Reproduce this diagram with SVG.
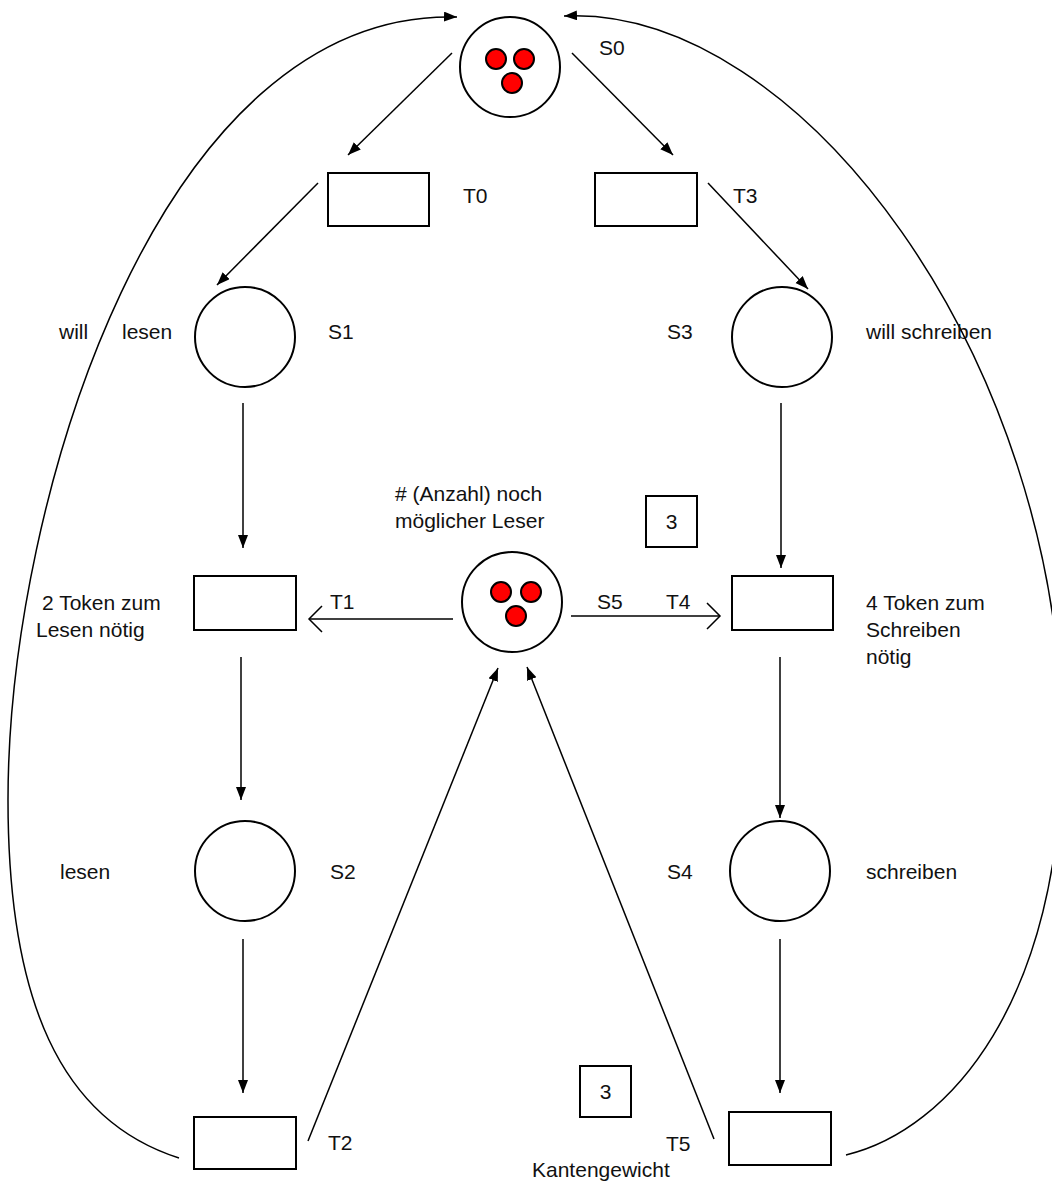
<svg xmlns="http://www.w3.org/2000/svg" width="1052" height="1187" viewBox="0 0 1052 1187">
<style>
.n{fill:#fff;stroke:#000;stroke-width:2}
.tok{fill:#f00;stroke:#000;stroke-width:2}
.e{fill:none;stroke:#000;stroke-width:1.5}
.t{font-family:"Liberation Sans",Arial,sans-serif;font-size:21px;fill:#111}
</style>
<defs>
<marker id="a" markerUnits="userSpaceOnUse" markerWidth="14" markerHeight="12" refX="13" refY="5" orient="auto">
<path d="M0,0 L13,5 L0,10 z" fill="#000"/>
</marker>
<marker id="o" markerUnits="userSpaceOnUse" markerWidth="18" markerHeight="30" refX="14" refY="14" orient="auto">
<path d="M1,1 L14,14 L1,27" fill="none" stroke="#000" stroke-width="1.5"/>
</marker>
</defs>
<g id="connectors">
<path class="e" d="M452,53 L348,155" marker-end="url(#a)"/>
<path class="e" d="M572,53 L673,155" marker-end="url(#a)"/>
<path class="e" d="M318,183 L217,285" marker-end="url(#a)"/>
<path class="e" d="M708,183 L808,289" marker-end="url(#a)"/>
<path class="e" d="M243,403 L243,548" marker-end="url(#a)"/>
<path class="e" d="M781,403 L781,568" marker-end="url(#a)"/>
<path class="e" d="M241,657 L241,800" marker-end="url(#a)"/>
<path class="e" d="M780,657 L780,818" marker-end="url(#a)"/>
<path class="e" d="M243,939 L243,1093" marker-end="url(#a)"/>
<path class="e" d="M780,939 L780,1093" marker-end="url(#a)"/>
<path class="e" d="M308,1141 L498,668" marker-end="url(#a)"/>
<path class="e" d="M714,1139 L527,667" marker-end="url(#a)"/>
<path class="e" d="M453,619 L309,619" marker-end="url(#o)"/>
<path class="e" d="M571,616 L720,616" marker-end="url(#o)"/>
<path class="e" d="M179,1158 C60,1120 8,1000 8,800 C8,500 160,8 457,17" marker-end="url(#a)"/>
<path class="e" d="M846,1155 C950,1130 1062,1000 1062,742 C1062,360 800,5 564,16" marker-end="url(#a)"/>
</g>
<g id="S0">
<circle class="n" cx="510" cy="67" r="50"/>
<circle class="tok" cx="496" cy="59" r="10"/>
<circle class="tok" cx="524" cy="59" r="10"/>
<circle class="tok" cx="512" cy="83" r="10"/>
<text class="t" x="599" y="55">S0</text>
</g>
<g id="T0">
<rect class="n" x="328" y="173" width="101" height="53"/>
<text class="t" x="463" y="203">T0</text>
</g>
<g id="T3">
<rect class="n" x="595" y="173" width="102" height="53"/>
<text class="t" x="733" y="203">T3</text>
</g>
<g id="S1">
<circle class="n" cx="245" cy="337" r="50"/>
<text class="t" x="328" y="339">S1</text>
<text class="t" x="59" y="339">will</text>
<text class="t" x="122" y="339">lesen</text>
</g>
<g id="S3">
<circle class="n" cx="782" cy="337" r="50"/>
<text class="t" x="667" y="339">S3</text>
<text class="t" x="866" y="339">will schreiben</text>
</g>
<g id="T1">
<rect class="n" x="194" y="576" width="102" height="54"/>
<text class="t" x="330" y="609">T1</text>
<text class="t" x="42" y="610">2 Token zum</text>
<text class="t" x="36" y="637">Lesen nötig</text>
</g>
<g id="S5">
<circle class="n" cx="512" cy="602" r="50"/>
<circle class="tok" cx="501" cy="592" r="10"/>
<circle class="tok" cx="531" cy="592" r="10"/>
<circle class="tok" cx="516" cy="616" r="10"/>
<text class="t" x="597" y="609">S5</text>
<text class="t" x="395" y="501"># (Anzahl) noch</text>
<text class="t" x="395" y="528">möglicher Leser</text>
</g>
<g id="W1">
<rect class="n" x="646" y="496" width="51" height="51"/>
<text class="t" x="671.5" y="529" text-anchor="middle">3</text>
</g>
<g id="T4">
<rect class="n" x="732" y="576" width="101" height="54"/>
<text class="t" x="666" y="609">T4</text>
<text class="t" x="866" y="610">4 Token zum</text>
<text class="t" x="866" y="637">Schreiben</text>
<text class="t" x="866" y="664">nötig</text>
</g>
<g id="S2">
<circle class="n" cx="245" cy="871" r="50"/>
<text class="t" x="330" y="879">S2</text>
<text class="t" x="60" y="879">lesen</text>
</g>
<g id="S4">
<circle class="n" cx="780" cy="871" r="50"/>
<text class="t" x="667" y="879">S4</text>
<text class="t" x="866" y="879">schreiben</text>
</g>
<g id="T2">
<rect class="n" x="194" y="1117" width="102" height="52"/>
<text class="t" x="328" y="1150">T2</text>
</g>
<g id="W2">
<rect class="n" x="580" y="1066" width="51" height="51"/>
<text class="t" x="605.5" y="1099" text-anchor="middle">3</text>
</g>
<g id="T5">
<rect class="n" x="729" y="1112" width="102" height="53"/>
<text class="t" x="666" y="1151">T5</text>
<text class="t" x="532" y="1177">Kantengewicht</text>
</g>
</svg>
